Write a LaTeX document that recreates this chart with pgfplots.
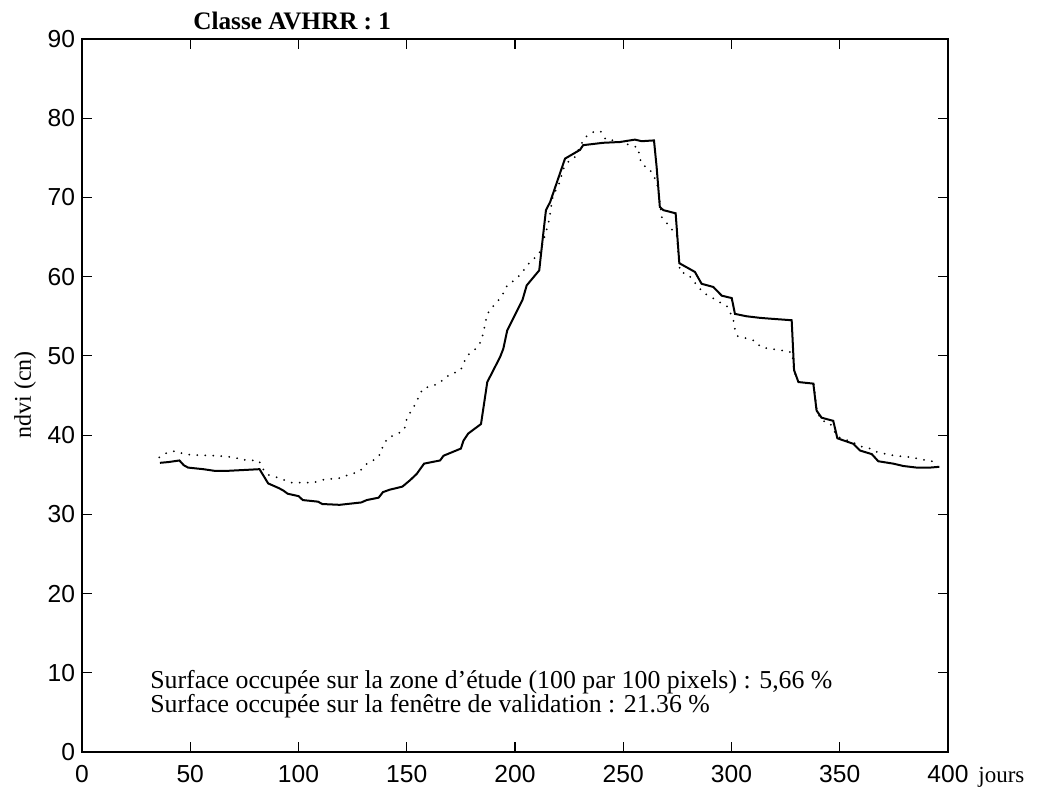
\documentclass[border=0pt]{standalone}
\usepackage{fontspec}
\setmainfont{Liberation Serif}
\newfontfamily\sansf{Liberation Sans}
\usepackage{pgfplots}
\pgfplotsset{compat=1.18}
\begin{document}
\begin{tikzpicture}[x=1pt,y=1pt]
\useasboundingbox (0,0) rectangle (522.5,396);
\begin{axis}[at={(41pt,20pt)}, anchor=south west, scale only axis,
  width=433pt, height=356.5pt,
  xmin=0, xmax=400, ymin=0, ymax=90,
  xtick={0,50,...,400}, ytick={0,10,...,90},
  tick align=inside, tick pos=both, major tick length=5pt,
  axis line style={line width=0.6pt},
  every tick/.style={black, line width=0.6pt},
  ticklabel style={font=\sansf\fontsize{12.3}{12}\selectfont},
  xticklabel style={yshift=-3pt},
  /pgf/number format/assume math mode=true,
  clip=false]
\addplot[black, line width=1pt] coordinates {
(36,36.5) (40,36.6) (45,36.8) (47,36.2) (49,35.9) (56,35.7) (61,35.5) (68,35.5)
(75,35.6) (82,35.7) (84,34.8) (86,33.9) (91,33.3) (93,33.0) (95,32.6) (100,32.3)
(102,31.8) (109,31.6) (111,31.3) (119,31.2) (129,31.5) (131.5,31.8) (137,32.1)
(139,32.8) (142,33.1) (148,33.5) (151.5,34.3) (154.6,35.1) (158,36.4) (165.4,36.8)
(167,37.4) (175,38.3) (176.2,39.3) (178.4,40.2) (184.3,41.4) (187.2,46.7)
(193.1,49.85) (194.6,50.9) (196.4,53.2) (203.5,57.1) (205.4,58.9) (211.2,60.8)
(212.8,64.8) (214.3,68.4) (216.2,69.4) (223.1,74.9) (230,76.0) (231.5,76.6)
(240.8,76.9) (248.5,77.0) (255.4,77.3) (258.5,77.1) (264.2,77.2) (265.4,73.9)
(266.9,68.8) (268.5,68.4) (274.2,68.0) (275.9,61.7) (283.1,60.6) (286.2,59.1)
(291.6,58.7) (295.5,57.6) (300.1,57.3) (301.6,55.3) (307,55.0) (313.2,54.8)
(317.8,54.7) (327.8,54.5) (328.9,48.2) (330.9,46.7) (337.8,46.5) (339.3,43.1)
(341.6,42.2) (347,41.8) (348.9,39.6) (356.3,38.9) (359.4,38.05) (364.8,37.6)
(367.8,36.7) (374.7,36.4) (379.4,36.1) (385.5,35.9) (391.7,35.9) (396,36.0)
};
\addplot[black, line width=1pt, line cap=round, dash pattern=on 0pt off 4pt] coordinates {
(35.7,37.2) (39.4,37.8) (43.3,38.0) (46.3,37.7) (50.2,37.5) (62.2,37.4) (70.2,37.2)
(73.8,36.9) (81.8,36.75) (83.4,35.8) (85.8,35.0) (89.6,34.7) (96.8,34.0) (104.5,34.0)
(108.4,34.1) (111.9,34.4) (119.9,34.6) (123.8,35.1) (127.6,35.3) (130.4,36.0)
(132.3,36.6) (135.8,36.95) (138,37.7) (139.2,38.8) (141.5,39.7) (145.4,40.1)
(148.9,40.7) (149.7,41.8) (151.5,42.8) (153.5,43.7) (155.5,44.8) (157.4,45.85)
(161.2,46.2) (165,46.5) (167.7,47.3) (171.2,47.75) (174.9,48.2) (176.4,49.2)
(178.7,50.2) (181.8,50.9) (184.3,51.8) (185.4,53.0) (186.3,54.1) (187,55.2)
(189.4,56.1) (192,56.9) (194.6,57.9) (196.4,58.9) (199.5,59.5) (202.6,60.3)
(205.1,61.2) (207.4,62.0) (210.8,62.7) (212.3,63.75) (215.4,66.7) (217.7,70.4)
(220,71.4) (221.2,72.5) (222.3,73.6) (224.6,74.5) (227.7,75.1) (231.5,77.2)
(233.6,77.9) (237.3,78.4) (239.7,78.3) (241.9,77.3) (245.9,77.2) (253.1,76.6)
(257,76.3) (257.4,75.1) (258.8,74.1) (261.9,73.7) (265.4,72.0) (266.2,70.9)
(266.9,69.4) (267.8,67.5) (270.3,66.7) (274.7,65.2) (276.2,60.6) (280.0,60.3)
(284.7,58.7) (287.3,57.9) (290.8,57.4) (294.4,56.8) (297.8,56.3) (300.8,54.7)
(301.6,53.4) (302.8,52.5) (307,52.2) (310.9,51.9) (313.5,51.1) (317.8,50.9)
(325.5,50.6) (328,50.4) (329,48.0) (331,46.7) (338,46.4) (339.5,43.0) (341.6,41.85)
(345.5,41.5) (348.9,39.8) (356,39.1) (359.4,38.6) (364,38.3) (367.8,37.8)
(375.5,37.4) (383.2,37.2) (391.7,36.7) (395,36.75)
};
\node[anchor=base west, inner sep=0pt, font=\fontsize{12.9}{14}\selectfont] at (axis cs:31.4,8.0) {Surface occupée sur la zone d’étude (100 par 100 pixels) : 5,66 \%};
\node[anchor=base west, inner sep=0pt, font=\fontsize{12.9}{14}\selectfont] at (axis cs:31.4,5.0) {Surface occupée sur la fenêtre de validation : 21.36 \%};
\end{axis}
\node[anchor=base west, inner sep=0pt, font=\bfseries\fontsize{12.6}{14}\selectfont] at (96.5,381) {Classe AVHRR : 1};
\node[rotate=90, inner sep=0pt, font=\fontsize{12}{14}\selectfont] at (12.5,198.5) {ndvi (cn)};
\node[anchor=base west, inner sep=0pt, font=\fontsize{11.5}{14}\selectfont] at (489,4.5) {jours};
\end{tikzpicture}
\end{document}
